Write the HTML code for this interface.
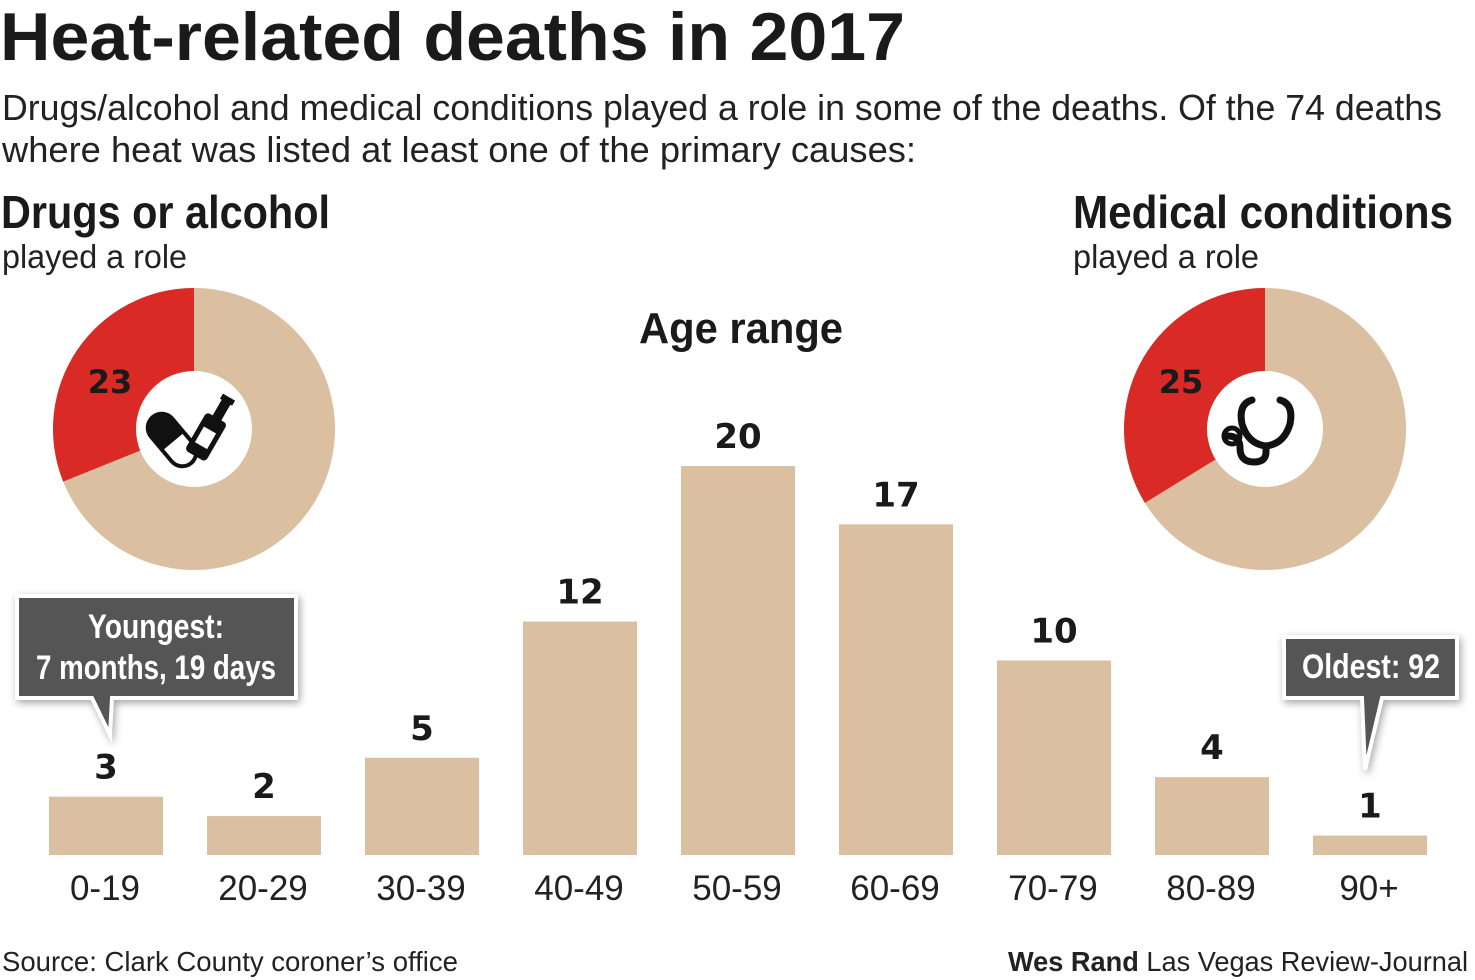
<!DOCTYPE html>
<html><head><meta charset="utf-8"><style>
html,body{margin:0;padding:0;background:#fff;}
svg{display:block;}
.cond{font-family:"Liberation Sans Narrow","Liberation Sans",sans-serif;}
.reg{font-family:"Liberation Sans Narrow","Liberation Sans",sans-serif;}
</style></head><body>
<svg id="chart" width="1475" height="980" viewBox="0 0 1475 980" xmlns="http://www.w3.org/2000/svg">
<text class="cond" x="0" y="60" font-size="68" font-weight="bold" fill="#1a1a1a" textLength="905" lengthAdjust="spacingAndGlyphs">Heat-related deaths in 2017</text>
<text class="reg" x="2" y="120" font-size="36" fill="#222" textLength="1440" lengthAdjust="spacingAndGlyphs">Drugs/alcohol and medical conditions played a role in some of the deaths. Of the 74 deaths</text>
<text class="reg" x="2" y="162" font-size="36" fill="#222" textLength="914" lengthAdjust="spacingAndGlyphs">where heat was listed at least one of the primary causes:</text>
<text class="cond" x="1" y="228" font-size="46" font-weight="bold" fill="#1a1a1a" textLength="329" lengthAdjust="spacingAndGlyphs">Drugs or alcohol</text>
<text class="reg" x="2" y="268" font-size="33" fill="#222" textLength="185" lengthAdjust="spacingAndGlyphs">played a role</text>
<text class="cond" x="1073" y="228" font-size="46" font-weight="bold" fill="#1a1a1a" textLength="380" lengthAdjust="spacingAndGlyphs">Medical conditions</text>
<text class="reg" x="1073" y="268" font-size="33" fill="#222" textLength="186" lengthAdjust="spacingAndGlyphs">played a role</text>
<text class="cond" x="741" y="343" text-anchor="middle" font-size="44" font-weight="bold" fill="#1a1a1a" textLength="204" lengthAdjust="spacingAndGlyphs">Age range</text>
<g id="bars"></g>
<g id="donuts"></g>
<!-- icons -->
<g fill="#111">
<g transform="translate(172,440) rotate(-40)"><rect x="-16" y="-32" width="32" height="64" rx="16" fill="#111"/><path d="M-12,2 h24 v14 a12,12 0 0 1 -24,0z" fill="#fff"/></g>
<g transform="translate(210,430) rotate(30)"><rect x="-12" y="-14" width="24" height="44" rx="4"/><rect x="-5" y="-34" width="10" height="22"/><rect x="-7" y="-38" width="14" height="6"/><rect x="-7" y="0" width="14" height="18" fill="#fff"/></g>
</g>
<g fill="none" stroke="#111" stroke-width="7" stroke-linecap="round">
<path d="M1252,400 q-14,4 -10,24 q6,20 24,22 q18,-2 24,-22 q4,-20 -10,-24"/>
<path d="M1266,446 v6 q0,10 -12,10 q-14,0 -14,-14 q0,-12 -12,-12"/>
<circle cx="1232" cy="436" r="8" stroke-width="5"/>
</g>
<!-- callouts -->
<g>
<path d="M17,596 H296 V698 H112 L110,735 L92,698 H17 Z" fill="#555" stroke="#fff" stroke-width="4" style="filter:drop-shadow(2px 3px 4px rgba(0,0,0,0.35))"/>
<text class="cond" x="156" y="638" text-anchor="middle" font-size="34" font-weight="bold" fill="#fff" textLength="136" lengthAdjust="spacingAndGlyphs">Youngest:</text>
<text class="cond" x="156" y="679" text-anchor="middle" font-size="34" font-weight="bold" fill="#fff" textLength="240" lengthAdjust="spacingAndGlyphs">7 months, 19 days</text>
</g>
<g>
<path d="M1284,637 H1457 V698 H1382 L1365,770 L1362,698 H1284 Z" fill="#555" stroke="#fff" stroke-width="4" style="filter:drop-shadow(2px 3px 4px rgba(0,0,0,0.35))"/>
<text class="cond" x="1371" y="678" text-anchor="middle" font-size="34" font-weight="bold" fill="#fff" textLength="138" lengthAdjust="spacingAndGlyphs">Oldest: 92</text>
</g>
<text class="reg" x="2" y="971" font-size="28" fill="#222" textLength="456" lengthAdjust="spacingAndGlyphs">Source: Clark County coroner’s office</text>
<text class="reg" x="1468" y="971" text-anchor="end" font-size="28" fill="#222" textLength="460" lengthAdjust="spacingAndGlyphs"><tspan font-weight="bold">Wes Rand</tspan> Las Vegas Review-Journal</text>
</svg>
<script>
const categories = ["0-19","20-29","30-39","40-49","50-59","60-69","70-79","80-89","90+"];
const deaths = [3,2,5,12,20,17,10,4,1];
const donutLabels = ["Drugs or alcohol","Medical conditions"];
const donutValues = [23,25];
const donutTotal = 74;

const NS = "http://www.w3.org/2000/svg";
const baseY = 855, unit = 19.45, x0 = 49, step = 158, bw = 114;
const xScale = i => x0 + i * step;
const yScale = v => baseY - v * unit;
const bars = document.getElementById('bars');
categories.forEach((c, i) => {
  const r = document.createElementNS(NS, 'rect');
  
  
  r.setAttribute('x', xScale(i)); r.setAttribute('y', yScale(deaths[i]));
  r.setAttribute('width', bw); r.setAttribute('height', baseY - yScale(deaths[i]));
  r.setAttribute('fill', '#dbbfa1');
  bars.appendChild(r);
  const v = document.createElementNS(NS, 'text');
  
  
  v.setAttribute('x', xScale(i) + bw / 2); v.setAttribute('y', yScale(deaths[i]) - 18);
  v.setAttribute('text-anchor', 'middle'); v.setAttribute('font-size', '34');
  v.setAttribute('font-weight', 'bold'); v.setAttribute('fill', '#1a1a1a');
  v.setAttribute('font-family', '"DejaVu Sans", sans-serif');
  v.textContent = deaths[i];
  bars.appendChild(v);
  const t = document.createElementNS(NS, 'text');
  
  
  t.setAttribute('x', xScale(i) + bw / 2 - 1); t.setAttribute('y', 900);
  t.setAttribute('text-anchor', 'middle'); t.setAttribute('font-size', '35');
  t.setAttribute('fill', '#222'); t.setAttribute('class', 'reg');
  t.textContent = c;
  bars.appendChild(t);
});

const donuts = document.getElementById('donuts');
const centers = [[194,429],[1265,429]];
const R = 141, r0 = 58;
function pt(cx, cy, rad, a) { return [cx + rad * Math.sin(a), cy - rad * Math.cos(a)]; }
donutValues.forEach((v, k) => {
  const [cx, cy] = centers[k];
  const bg = document.createElementNS(NS, 'circle');
  
  
  bg.setAttribute('cx', cx); bg.setAttribute('cy', cy); bg.setAttribute('r', R);
  bg.setAttribute('fill', '#dbbfa1');
  donuts.appendChild(bg);
  const ang = v / donutTotal * 2 * Math.PI;
  const p1 = pt(cx, cy, R, 0), p2 = pt(cx, cy, R, -ang);
  const p = document.createElementNS(NS, 'path');
  
  
  p.setAttribute('d', `M${cx},${cy} L${p1[0]},${p1[1]} A${R},${R} 0 ${ang > Math.PI ? 1 : 0} 0 ${p2[0]},${p2[1]} Z`);
  p.setAttribute('fill', '#d92a26');
  donuts.appendChild(p);
  const hole = document.createElementNS(NS, 'circle');
  
  
  hole.setAttribute('cx', cx); hole.setAttribute('cy', cy); hole.setAttribute('r', r0);
  hole.setAttribute('fill', '#fff');
  donuts.appendChild(hole);
  const t = document.createElementNS(NS, 'text');
  
  
  t.setAttribute('x', cx - 84); t.setAttribute('y', cy - 36);
  t.setAttribute('text-anchor', 'middle'); t.setAttribute('font-size', '32');
  t.setAttribute('font-weight', 'bold'); t.setAttribute('fill', '#1a1a1a');
  t.setAttribute('font-family', '"DejaVu Sans", sans-serif');
  t.textContent = v;
  donuts.appendChild(t);
});
</script>
</body></html>
